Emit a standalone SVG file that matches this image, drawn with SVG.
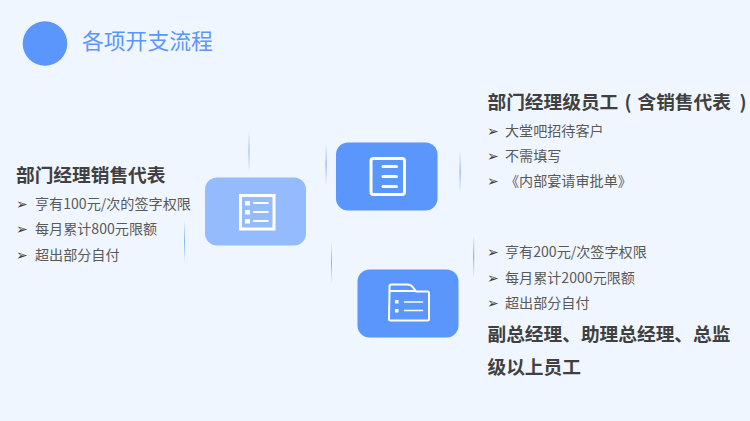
<svg xmlns="http://www.w3.org/2000/svg" width="750" height="421" viewBox="0 0 750 421">
<style>
.h{font-family:"Noto Sans CJK SC","Liberation Sans",sans-serif;font-size:18.7px;font-weight:700;fill:#404040}
.t{font-family:"Noto Sans CJK SC","Liberation Sans",sans-serif;font-size:14.1px;fill:#595959}
.b{font-family:"DejaVu Sans",sans-serif;font-size:14px;fill:#404040}
.i{fill:none;stroke:#fff;stroke-linecap:round;stroke-linejoin:round}
</style>
<defs>
<linearGradient id="fade" x1="0" y1="0" x2="0" y2="1">
<stop offset="0" stop-color="#5B96FC" stop-opacity="0"/>
<stop offset=".5" stop-color="#5B96FC" stop-opacity=".7"/>
<stop offset="1" stop-color="#5B96FC" stop-opacity="0"/>
</linearGradient>
</defs>
<rect width="750" height="421" fill="#F0F6FF"/>
<g id="connectors">
<rect x="248.500" y="130" width="1" height="43" fill="url(#fade)"/>
<rect x="325.500" y="143" width="1.200" height="43" fill="url(#fade)"/>
<rect x="184" y="220" width="1" height="43" fill="url(#fade)"/>
<rect x="331" y="242" width="1" height="42" fill="url(#fade)"/>
<rect x="459.500" y="151" width="1.200" height="42" fill="url(#fade)"/>
<rect x="473" y="235" width="1.200" height="43" fill="url(#fade)"/>
</g>
<g id="header">
<circle cx="45" cy="43.500" r="22.300" fill="#5B96FC"/>
<text x="82" y="48.500" font-family="'Noto Sans CJK SC',sans-serif" font-size="21.800" fill="#5B96FC">各项开支流程</text>
</g>
<g id="node-left">
<rect x="205" y="177.500" width="101" height="68" rx="12" fill="#94BBFD"/>
<rect x="240.500" y="195.500" width="33.500" height="33.500" fill="none" stroke="#fff" stroke-width="3"/>
<g fill="#fff"><rect x="245" y="201" width="5" height="4.500"/><rect x="245" y="210" width="5" height="4.500"/><rect x="245" y="219" width="5" height="4.500"/><rect x="253" y="202" width="15.500" height="2"/><rect x="253" y="211" width="15.500" height="2"/><rect x="253" y="220" width="15.500" height="2"/></g>
</g>
<g id="node-top">
<rect x="336" y="142.500" width="101.500" height="68" rx="12" fill="#5B96FC"/>
<rect class="i" x="371" y="158.500" width="33.500" height="36" rx="2.500" stroke-width="3"/>
<path class="i" stroke-width="3" d="M383 166.500h13.500M383 176.500h13.500M383 186.500h13.500"/>
</g>
<g id="node-bottom">
<rect x="357.500" y="269.500" width="101" height="68" rx="12" fill="#5B96FC"/>
<path class="i" stroke-width="2" d="M389.500 291v-4.500a2 2 0 0 1 2-2h15.500c3 0 5 1 6.500 3.500l2.500 3.500h11.500a1.500 1.500 0 0 1 1.500 1.500v26a1.500 1.500 0 0 1-1.500 1.500h-37a1.500 1.500 0 0 1-1.500-1.500zh26.500"/>
<path class="i" stroke-width="1.500" d="M404.500 302h18M404.500 310.500h18"/>
<rect x="395" y="300" width="3.500" height="3.500" fill="#fff"/><rect x="395" y="309" width="3.500" height="3.500" fill="#fff"/>
</g>
<g id="text-left">
<text class="h" x="16" y="182">部门经理销售代表</text>
<text class="b" x="16" y="209">➢</text><text class="t" x="35" y="209">亨有100元/次的签字权限</text>
<text class="b" x="16" y="234">➢</text><text class="t" x="35" y="234">每月累计800元限额</text>
<text class="b" x="16" y="260">➢</text><text class="t" x="35" y="259.500">超出部分自付</text>
</g>
<g id="text-top">
<text class="h" x="487.500" y="109">部门经理级员工<tspan x="624.500">(</tspan><tspan x="637.500">含销售代表</tspan><tspan x="739.500">)</tspan></text>
<text class="b" x="487" y="136">➢</text><text class="t" x="505" y="136">大堂吧招待客户</text>
<text class="b" x="487" y="161">➢</text><text class="t" x="505" y="161">不需填写</text>
<text class="b" x="487" y="186">➢</text><text class="t" x="505" y="186">《内部宴请审批单》</text>
</g>
<g id="text-bottom">
<text class="b" x="487" y="257">➢</text><text class="t" x="505" y="257">亨有200元/次签字权限</text>
<text class="b" x="487" y="283">➢</text><text class="t" x="505" y="283">每月累计2000元限额</text>
<text class="b" x="487" y="308">➢</text><text class="t" x="505" y="308">超出部分自付</text>
<text class="h" x="487.500" y="341">副总经理、助理总经理、总监</text>
<text class="h" x="487.500" y="374">级以上员工</text>
</g>
</svg>
